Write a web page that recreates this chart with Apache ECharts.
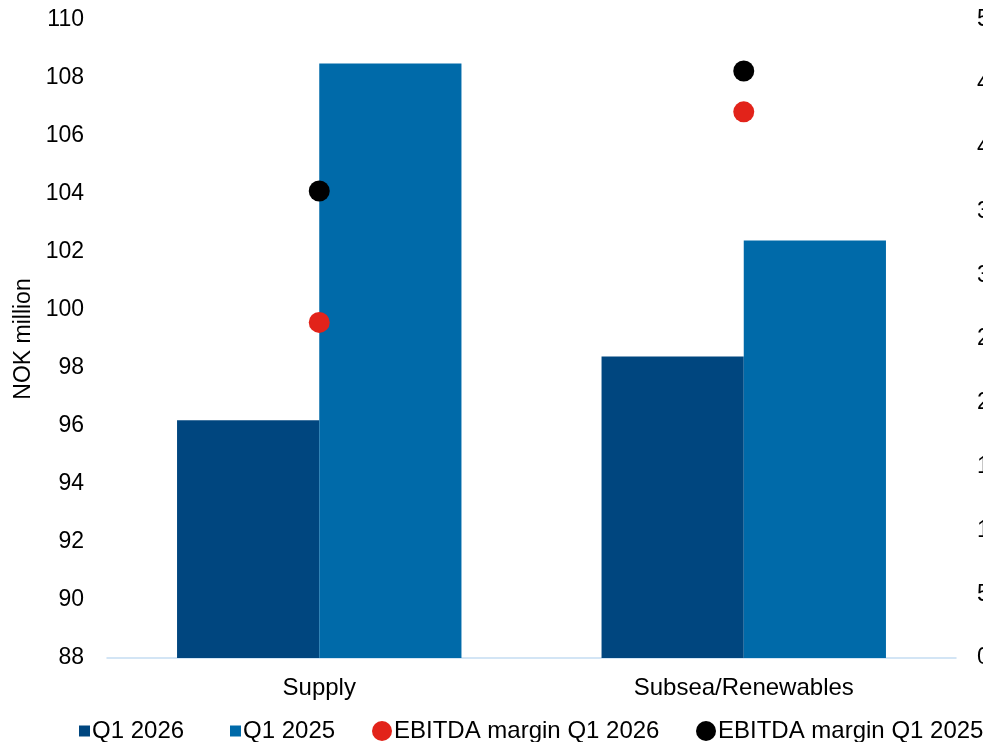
<!DOCTYPE html>
<html>
<head>
<meta charset="utf-8">
<script src="https://cdn.jsdelivr.net/npm/echarts@6/dist/echarts.min.js"></script>
<style>
  html, body { margin: 0; padding: 0; background: #ffffff; }
  #chart { width: 983px; height: 742px; }
</style>
</head>
<body>
<div id="chart"></div>
<script>
// Segment revenue (NOK million, left axis) and EBITDA margin (%, right axis)
const categories = ['Supply', 'Subsea/Renewables'];
const revenueQ1_2026 = [96.2, 98.4];
const revenueQ1_2025 = [108.5, 102.4];
const marginQ1_2026 = [26.3, 42.8];
const marginQ1_2025 = [36.6, 46.0];

const leftAxisName = 'NOK million';
const seriesNames = ['Q1 2026', 'Q1 2025', 'EBITDA margin Q1 2026', 'EBITDA margin Q1 2025'];

const FONT = 'Liberation Sans, Arial, sans-serif';
const TEXT = '#000000';
const FS = 23;
const FS_CAT = 24;

const chart = echarts.init(document.getElementById('chart'), null, { renderer: 'canvas' });

function legendFor(name, left, iconW, iconH, icon) {
  return {
    data: [{ name: name, icon: icon }],
    left: left,
    top: 719,
    itemWidth: iconW,
    itemHeight: iconH,
    padding: 0,
    selectedMode: false,
    textStyle: { fontFamily: FONT, fontSize: FS_CAT, color: TEXT, padding: [0, 0, 0, -3] }
  };
}

chart.setOption({
  animation: false,
  backgroundColor: '#ffffff',
  grid: { left: 107, right: 27, top: 20, bottom: 84, containLabel: false, outerBoundsMode: 'none' },
  legend: [
    legendFor(seriesNames[0], 79, 11, 11, 'rect'),
    legendFor(seriesNames[1], 230, 11, 11, 'rect'),
    legendFor(seriesNames[2], 372, 20, 20, 'circle'),
    legendFor(seriesNames[3], 696, 20, 20, 'circle')
  ],
  xAxis: {
    type: 'category',
    data: categories,
    axisLine: { show: true, lineStyle: { color: '#C5DDF2', width: 1.5 } },
    axisTick: { show: false },
    axisLabel: { fontFamily: FONT, fontSize: FS_CAT, color: TEXT, margin: 18 },
    splitLine: { show: false }
  },
  yAxis: [
    {
      type: 'value',
      min: 88,
      max: 110,
      interval: 2,
      name: leftAxisName,
      nameLocation: 'middle',
      nameRotate: 90,
      nameGap: 69,
      nameTextStyle: { fontFamily: FONT, fontSize: 23, color: TEXT },
      axisLine: { show: false },
      axisTick: { show: false },
      splitLine: { show: false },
      axisLabel: { fontFamily: FONT, fontSize: FS, color: TEXT, margin: 23 }
    },
    {
      type: 'value',
      min: 0,
      max: 50,
      interval: 5,
      position: 'right',
      axisLine: { show: false },
      axisTick: { show: false },
      splitLine: { show: false },
      axisLabel: { fontFamily: FONT, fontSize: FS, color: TEXT, margin: 21, formatter: '{value}%' }
    }
  ],
  series: [
    {
      name: seriesNames[0],
      type: 'bar',
      data: revenueQ1_2026,
      barGap: '0%',
      barCategoryGap: '33%',
      itemStyle: { color: '#00467F' }
    },
    {
      name: seriesNames[1],
      type: 'bar',
      data: revenueQ1_2025,
      barGap: '0%',
      barCategoryGap: '33%',
      itemStyle: { color: '#006AA9' }
    },
    {
      name: seriesNames[2],
      type: 'scatter',
      yAxisIndex: 1,
      data: marginQ1_2026,
      symbol: 'circle',
      symbolSize: 21,
      z: 5,
      itemStyle: { color: '#E2231A', opacity: 1 }
    },
    {
      name: seriesNames[3],
      type: 'scatter',
      yAxisIndex: 1,
      data: marginQ1_2025,
      symbol: 'circle',
      symbolSize: 21,
      z: 5,
      itemStyle: { color: '#000000', opacity: 1 }
    }
  ]
});
</script>
</body>
</html>
